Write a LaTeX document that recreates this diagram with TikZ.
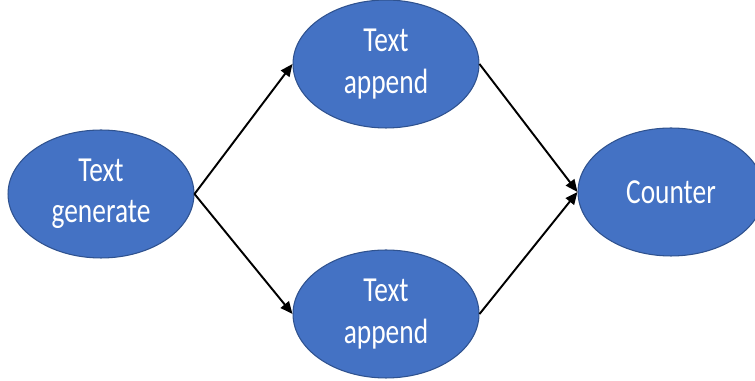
\documentclass[tikz,border=0pt]{standalone}
\usepackage{fontspec}
\setmainfont{Carlito}
\newfontfamily\ovalfont[FakeStretch=0.78]{Carlito}
\usetikzlibrary{shapes.geometric,arrows.meta}

\definecolor{ovalblue}{HTML}{4472C4}
\definecolor{ovalline}{HTML}{2F528F}

\begin{document}
\begin{tikzpicture}[%
    x=0.02cm, y=-0.02cm,
    oval/.style={%
        ellipse,
        draw=ovalline,
        line width=0.6pt,
        fill=ovalblue,
        text=white,
        minimum width=3.72cm,
        minimum height=2.56cm,
        inner sep=0pt,
        align=center,
        font=\ovalfont\fontsize{20}{23.5}\selectfont,
    },
    link/.style={%
        draw=black,
        line width=1.1pt,
        -{Triangle[length=7pt,width=6pt]},
%       shorten >=1pt,
    }
]
\useasboundingbox (0,0) rectangle (755,381);

\node[oval] (gen)   at (101,194) {Text\\generate};
\node[oval] (appup) at (386,64)  {Text\\append};
\node[oval] (applo) at (386,314) {Text\\append};
\node[oval] (count) at (671,192) {Counter};

% connectors
\draw[link] (gen.east) -- (appup.west);
\draw[link] (gen.east) -- (applo.west);
\draw[link] (appup.east) -- (count.west);
\draw[link] (applo.east) -- (count.west);

\end{tikzpicture}
\end{document}
